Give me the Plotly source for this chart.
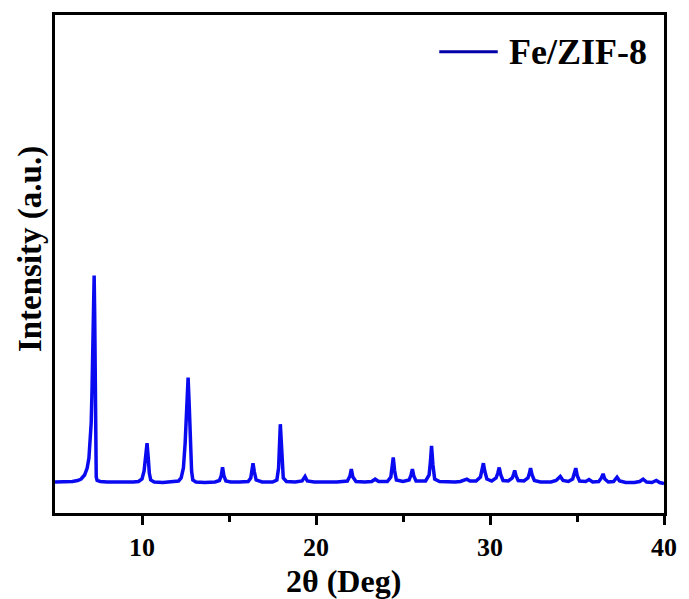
import plotly.graph_objects as go

# Powder XRD pattern of Fe/ZIF-8 (2-theta in degrees, intensity in arbitrary units)
two_theta = [
    5.0, 5.5, 6.0, 6.3, 6.5, 6.7, 6.85, 6.95, 7.02, 7.08, 7.13, 7.18, 7.22, 7.25,
    7.28, 7.31, 7.34, 7.37, 7.42, 7.6, 8.0, 8.5, 9.0, 9.5, 9.8, 10.0, 10.12, 10.2,
    10.29, 10.36, 10.42, 10.5, 10.7, 11.2, 11.8, 12.1, 12.25, 12.38, 12.48, 12.56,
    12.65, 12.72, 12.78, 12.85, 12.92, 13.1, 13.6, 14.2, 14.45, 14.55, 14.63, 14.71,
    14.82, 15.1, 15.6, 16.1, 16.25, 16.32, 16.38, 16.46, 16.56, 16.9, 17.5, 17.75,
    17.85, 17.95, 18.03, 18.12, 18.3, 18.8, 19.2, 19.37, 19.5, 19.9, 20.5, 21.2,
    21.8, 21.95, 22.03, 22.12, 22.3, 22.8, 23.2, 23.4, 23.6, 24.1, 24.3, 24.38,
    24.44, 24.52, 24.62, 25.0, 25.35, 25.46, 25.54, 25.62, 25.75, 26.3, 26.5, 26.58,
    26.64, 26.72, 26.82, 27.1, 27.6, 28.0, 28.3, 28.5, 28.67, 28.85, 29.2, 29.45,
    29.55, 29.62, 29.7, 29.82, 30.1, 30.35, 30.45, 30.53, 30.62, 30.75, 31.05, 31.28,
    31.36, 31.42, 31.5, 31.62, 31.95, 32.18, 32.27, 32.33, 32.42, 32.55, 32.9, 33.3,
    33.5, 33.8, 34.04, 34.2, 34.5, 34.75, 34.85, 34.93, 35.02, 35.15, 35.5, 35.69,
    35.9, 36.25, 36.4, 36.5, 36.6, 36.8, 37.1, 37.3, 37.45, 37.8, 38.3, 38.6, 38.8,
    39.0, 39.3, 39.56, 39.75, 40.0,
]
intensity = [
    31.0, 31.2, 31.5, 32.5, 34.0, 38.0, 45.0, 55.0, 70.0, 90.0, 125.0, 170.0, 215.0, 237.5,
    200.0, 126.0, 60.0, 36.0, 32.5, 31.5, 31.0, 30.8, 30.8, 31.0, 31.5, 34.0, 42.0, 53.0,
    69.8, 55.0, 40.0, 33.0, 31.0, 30.5, 31.0, 32.0, 35.0, 45.0, 70.0, 105.0,
    135.5, 105.0, 70.0, 42.0, 33.0, 31.0, 30.5, 31.0, 32.5, 37.0, 45.8, 37.0,
    32.0, 31.0, 31.0, 31.5, 35.0, 42.0, 49.8, 41.0, 33.0, 31.0, 31.0, 33.0,
    45.0, 88.8, 55.0, 35.0, 31.5, 31.0, 32.0, 36.5, 32.0, 31.0, 31.0, 31.0,
    32.0, 37.0, 43.8, 36.0, 31.5, 31.0, 31.5, 33.8, 31.5, 31.5, 36.0, 45.0,
    55.5, 42.0, 33.0, 31.5, 33.0, 38.0, 43.8, 37.0, 32.0, 32.0, 38.0, 52.0,
    67.2, 48.0, 34.0, 31.5, 31.0, 31.0, 31.5, 32.5, 33.8, 32.0, 32.0, 36.0,
    43.0, 49.8, 42.0, 34.0, 32.0, 35.0, 40.0, 45.5, 38.0, 32.5, 32.0, 35.0,
    39.0, 42.5, 37.0, 32.5, 32.0, 35.0, 40.0, 44.8, 38.0, 32.5, 31.0, 31.5,
    31.0, 32.5, 36.5, 32.5, 31.5, 34.0, 39.0, 44.8, 37.0, 32.0, 31.5, 33.5,
    31.0, 31.5, 35.0, 39.2, 34.0, 31.0, 31.5, 35.8, 32.0, 30.5, 30.5, 31.5, 33.8,
    31.0, 30.5, 32.5, 30.5, 29.5,
]

x_ticks = [10, 20, 30, 40]
minor_ticks = [15, 25, 35]
series_name = "Fe/ZIF-8"
x_title = "2θ (Deg)"
y_title = "Intensity (a.u.)"

line_color = "#0a0af0"
font_family = "Liberation Serif, Times New Roman, serif"

fig = go.Figure()
fig.add_trace(go.Scatter(
    x=two_theta, y=intensity, mode="lines", name=series_name,
    line=dict(color=line_color, width=3.5), showlegend=False,
))

# Legend drawn by hand: short line sample plus bold label
fig.add_shape(type="line", xref="paper", yref="paper",
              x0=0.631, x1=0.727, y0=0.926, y1=0.926,
              line=dict(color="#0000a8", width=3))
fig.add_annotation(xref="paper", yref="paper", x=0.742, y=0.926,
                   xanchor="left", yanchor="middle", showarrow=False,
                   text="<b>%s</b>" % series_name,
                   font=dict(family=font_family, size=36, color="black"))

# Axis titles placed as annotations
fig.add_annotation(xref="paper", yref="paper", x=0.474, y=-0.137,
                   xanchor="center", yanchor="middle", showarrow=False,
                   text="<b>%s</b>" % x_title,
                   font=dict(family=font_family, size=32, color="black"))
fig.add_annotation(xref="paper", yref="paper", x=-0.041, y=0.53,
                   xanchor="center", yanchor="middle", showarrow=False,
                   textangle=-90, text="<b>%s</b>" % y_title,
                   font=dict(family=font_family, size=33, color="black"))

fig.update_layout(
    width=689, height=599,
    margin=dict(l=55, r=19, t=15, b=86),
    paper_bgcolor="white", plot_bgcolor="white",
    font=dict(family=font_family, color="black"),
    xaxis=dict(
        range=[5, 40], tickvals=x_ticks,
        ticktext=["<b>%d</b>" % t for t in x_ticks],
        ticks="outside", ticklen=9, tickwidth=2.5, tickcolor="black",
        minor=dict(tickvals=minor_ticks, ticks="outside", ticklen=6,
                   tickwidth=2.5, tickcolor="black"),
        showline=True, linecolor="black", linewidth=3, mirror=True,
        showgrid=False, zeroline=False,
        tickfont=dict(size=26, family=font_family),
    ),
    yaxis=dict(
        range=[0, 498], showticklabels=False, ticks="",
        showline=True, linecolor="black", linewidth=3, mirror=True,
        showgrid=False, zeroline=False,
    ),
)

fig.write_html("out.html")
